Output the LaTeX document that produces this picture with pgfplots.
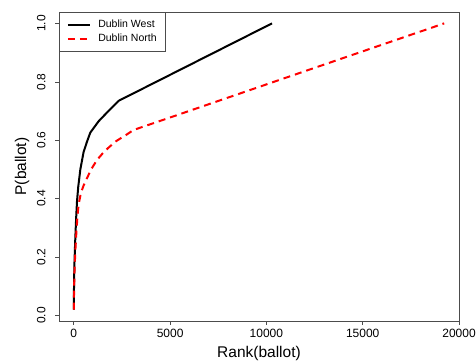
\documentclass[border=0pt]{standalone}
\usepackage{fontspec}
\setmainfont{Liberation Sans}
\usepackage{pgfplots}
\pgfplotsset{compat=1.18}
\pgfplotsset{legend image code/.code={\draw[#1] (0pt,0pt) -- (22pt,0pt);}}
\begin{document}
\begin{tikzpicture}
\path[use as bounding box] (-59pt,-41pt) rectangle (417pt,321pt);
\begin{axis}[at={(0,0)}, anchor=south west, scale only axis, width=400pt, height=309pt,
  xmin=-768, xmax=19999, ymin=-0.019, ymax=1.039,
  scaled x ticks=false, scaled y ticks=false,
  xtick={0,5000,10000,15000,20000}, xticklabels={0,5000,10000,15000,20000},
  ytick={0,0.2,0.4,0.6,0.8,1.0}, yticklabels={0.0,0.2,0.4,0.6,0.8,1.0},
  /pgf/number format/assume math mode=true,
  tick align=outside, major tick length=3.5pt,
  xtick pos=lower, ytick pos=left,
  tick style={black!70, line width=0.6pt},
  axis line style={black!70, line width=0.6pt},
  tick label style={font=\fontsize{12}{14}\selectfont},
  xticklabel style={inner sep=0pt, anchor=north},
  xticklabel shift=4pt,
  yticklabel style={rotate=90, anchor=south, inner sep=0pt},
  yticklabel shift=9.7pt,
  xlabel={Rank(ballot)}, ylabel={P(ballot)},
  label style={font=\fontsize{15.5}{18}\selectfont},
  xlabel style={at={(axis description cs:0.5,-0.081)}, anchor=north, inner sep=0pt},
  ylabel style={at={(axis description cs:-0.0925,0.5)}, anchor=center, inner sep=0pt},
  legend style={at={(0,1)}, anchor=north west, draw=black!70, line width=0.6pt,
    font=\fontsize{10.5}{12}\selectfont, inner xsep=7.5pt, inner ysep=6.5pt,
    row sep=1pt, column sep=6pt,
    nodes={inner sep=1.5pt, text height=7.5pt, text depth=2pt}},
  legend cell align=left,
]
\addplot[black, line width=2pt] coordinates {
(1,0.02) (10,0.09) (30,0.17) (70,0.25) (120,0.33) (166,0.39) (230,0.44)
(340,0.50) (510,0.56) (685,0.595) (857,0.626) (1290,0.665) (1800,0.70)
(2330,0.735) (10290,1.0)
};
\addlegendentry{Dublin West}
\addplot[red, line width=2pt, dash pattern=on 7pt off 5pt] coordinates {
(1,0.02) (15,0.09) (40,0.16) (80,0.22) (130,0.28) (190,0.34) (250,0.38)
(370,0.42) (510,0.445) (685,0.47) (900,0.50) (1200,0.532) (1500,0.555)
(1810,0.575) (2200,0.597) (2760,0.62) (3100,0.635) (5010,0.678)
(11760,0.831) (19230,1.0)
};
\addlegendentry{Dublin North}
\end{axis}
\end{tikzpicture}
\end{document}
